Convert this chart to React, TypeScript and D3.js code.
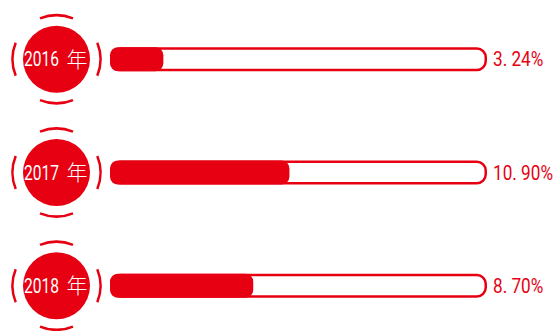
import React from "react";
import * as d3 from "d3";

const years: string[] = ["2016", "2017", "2018"];
const values: number[] = [3.24, 10.9, 8.7];
const yearSuffix = "年";

const W = 560;
const H = 331;
const RED = "#e60012";

export default function App() {
  const x = d3.scaleLinear().domain([0, 22.9]).range([110, 487]);
  const y = d3.scalePoint<string>().domain(years).range([59.25, 285.75]);
  const cx = 56.5;
  const ringR = 44;
  const arcGen = d3.arc<any>().innerRadius(ringR - 1.25).outerRadius(ringR + 1.25);
  const span = (22 * Math.PI) / 180;
  const arcs = [0, 90, 180, 270].map((deg) => {
    const a = (deg * Math.PI) / 180;
    return arcGen({ startAngle: a - span, endAngle: a + span }) as string;
  });
  const barH = 24;
  const fmt = (v: number) => d3.format(".2f")(v).replace(".", ". ") + "%";

  return (
    <svg
      width={W}
      height={H}
      style={{ position: "absolute", left: 0, top: 0, background: "#fff" }}
    >
      {years.map((yr, i) => {
        const cy = y(yr) as number;
        return (
          <g key={yr}>
            <g transform={`translate(${cx},${cy})`}>
              {arcs.map((d, j) => (
                <path key={j} d={d} fill={RED} />
              ))}
              <circle r={33.5} fill={RED} />
              <text
                x={-32.5}
                y={7}
                fill="#fff"
                fontFamily="'Roboto', sans-serif"
                fontWeight={400}
                fontSize={20}
                textLength={35}
                lengthAdjust="spacingAndGlyphs"
              >
                {yr}
              </text>
              <text
                x={10}
                y={7.5}
                fill="#fff"
                fontFamily="'Noto Sans CJK SC', sans-serif"
                fontWeight={300}
                fontSize={21}
              >
                {yearSuffix}
              </text>
            </g>
            <rect
              x={x(0) + 1.25}
              y={cy - barH / 2 + 1.25}
              width={x.range()[1] - x(0) - 2.5}
              height={barH - 2.5}
              rx={9}
              fill="none"
              stroke={RED}
              strokeWidth={2.5}
            />
            <rect
              x={x(0)}
              y={cy - barH / 2}
              width={x(values[i]) - x(0)}
              height={barH}
              rx={8}
              fill={RED}
            />
            <g transform={`translate(493,${cy + 7}) scale(0.86,1)`}>
              <text
                x={0}
                y={0}
                fill={RED}
                fontFamily="'Roboto', sans-serif"
                fontWeight={400}
                fontSize={20}
              >
                {fmt(values[i])}
              </text>
            </g>
          </g>
        );
      })}
    </svg>
  );
}
